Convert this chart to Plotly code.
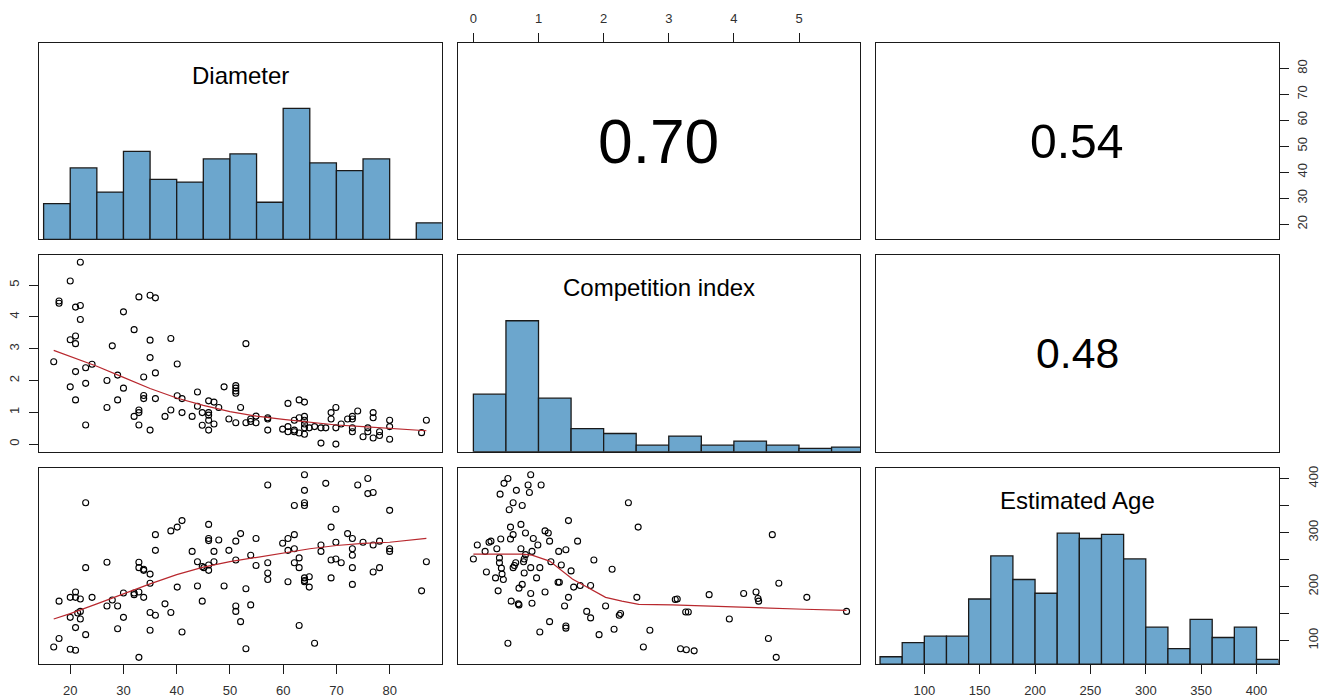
import plotly.graph_objects as go

# ---------------------------------------------------------------- data
variables = ["Diameter", "Competition index", "Estimated Age"]

# Diameter (x) vs competition index (y)
dia_ci_pairs = [
    (16.9, 2.59), (17.9, 4.50), (17.9, 4.43), (20.0, 5.13), (21.9, 5.72), (21.0, 4.31), (21.9, 4.36),
    (21.9, 3.92), (20.0, 3.28), (21.0, 3.40), (21.0, 3.16), (20.0, 1.80), (21.0, 2.28), (21.0, 1.39),
    (22.9, 2.40), (22.9, 1.91), (22.9, 0.60), (24.1, 2.51), (26.9, 2.00), (26.9, 1.15), (27.9, 3.09),
    (28.9, 2.17), (28.9, 1.39), (30.0, 4.16), (30.0, 1.76), (32.0, 3.60), (32.0, 0.87), (32.9, 4.63),
    (32.9, 1.07), (32.9, 0.99), (32.9, 0.60), (33.8, 2.11), (33.8, 1.53), (33.8, 1.43), (35.0, 4.68),
    (35.0, 3.27), (35.0, 2.72), (35.0, 0.44), (36.0, 4.60), (36.0, 2.24), (36.0, 1.43), (37.8, 0.87),
    (38.9, 3.32), (38.9, 1.07), (40.1, 2.52), (40.1, 1.52), (41.0, 1.43), (41.0, 0.99), (42.9, 0.87),
    (43.9, 1.64), (43.9, 1.19), (44.8, 0.99), (44.8, 0.59), (46.0, 1.36), (46.0, 0.99), (46.0, 0.91),
    (46.0, 0.75), (46.0, 0.44), (47.0, 1.32), (47.0, 0.63), (47.9, 1.15), (48.9, 1.80), (49.8, 0.79),
    (51.1, 1.84), (51.1, 1.76), (51.1, 1.67), (51.1, 1.60), (51.1, 0.67), (52.0, 1.15), (53.0, 3.16),
    (53.0, 0.67), (53.9, 0.71), (53.9, 0.79), (54.9, 0.88), (54.9, 0.67), (57.1, 0.83), (57.1, 0.79),
    (57.1, 0.44), (59.9, 0.47), (60.9, 1.28), (60.9, 0.55), (60.9, 0.39), (62.1, 0.75), (62.1, 0.44),
    (62.1, 0.39), (63.0, 1.39), (63.0, 0.83), (63.0, 0.35), (64.0, 1.32), (64.0, 0.87), (64.0, 0.75),
    (64.0, 0.63), (64.0, 0.51), (64.0, 0.31), (64.9, 0.51), (65.9, 0.55), (67.1, 0.03), (67.1, 0.51),
    (68.0, 0.51), (69.0, 0.99), (69.0, 0.79), (69.9, 1.15), (69.9, 0.51), (69.9, 0.00), (70.9, 0.63),
    (72.1, 0.79), (73.0, 0.87), (73.0, 0.79), (73.0, 0.51), (73.0, 0.39), (74.0, 1.04), (75.0, 0.23),
    (75.9, 0.51), (75.9, 0.39), (76.9, 0.99), (76.9, 0.83), (76.9, 0.19), (78.1, 0.39), (78.1, 0.27),
    (80.0, 0.75), (80.0, 0.55), (80.0, 0.15), (86.0, 0.36), (86.9, 0.75),
]

# Diameter (x) vs estimated age (y)
dia_age_pairs = [
    (16.9, 88), (17.9, 173), (17.9, 104), (20.0, 180), (20.0, 143), (20.0, 84), (21.0, 190), (21.0, 180),
    (21.0, 124), (21.0, 82), (21.9, 177), (21.9, 154), (21.9, 140), (21.4, 151), (22.9, 355), (22.9, 235),
    (22.9, 111), (24.1, 180), (26.9, 245), (26.9, 164), (27.9, 175), (28.9, 164), (28.9, 122), (30.0, 188),
    (30.0, 143), (32.0, 188), (32.0, 185), (32.9, 245), (32.9, 235), (32.9, 190), (32.9, 69), (33.8, 232),
    (33.8, 230), (33.8, 180), (35.0, 223), (35.0, 206), (35.0, 152), (35.0, 119), (36.0, 296), (36.0, 267),
    (36.0, 147), (37.8, 168), (38.9, 303), (38.9, 152), (40.1, 310), (40.1, 199), (41.0, 322), (41.0, 116),
    (42.9, 265), (43.9, 246), (43.9, 201), (44.8, 237), (45.1, 235), (44.8, 173), (46.0, 315), (46.0, 289),
    (46.0, 285), (46.0, 240), (46.0, 230), (47.0, 265), (47.0, 246), (47.9, 286), (48.9, 201), (49.8, 267),
    (51.1, 284), (51.1, 249), (51.1, 164), (51.1, 154), (52.0, 298), (52.0, 135), (53.0, 196), (53.0, 85),
    (53.9, 258), (53.9, 166), (54.9, 289), (54.9, 239), (57.1, 388), (57.1, 244), (57.1, 225), (57.1, 213),
    (59.9, 280), (60.9, 289), (60.9, 267), (60.9, 209), (62.1, 350), (62.1, 296), (62.1, 270), (62.1, 244),
    (63.0, 253), (63.0, 235), (63.0, 128), (64.0, 407), (64.0, 378), (64.0, 355), (64.0, 350), (64.0, 216),
    (64.0, 211), (64.0, 209), (64.9, 218), (64.9, 199), (65.9, 95), (67.1, 277), (67.1, 265), (68.0, 391),
    (69.0, 310), (69.0, 249), (69.0, 216), (69.9, 343), (69.9, 282), (69.9, 251), (70.9, 244), (72.1, 298),
    (73.0, 289), (73.0, 270), (73.0, 258), (73.0, 235), (73.0, 204), (74.0, 388), (75.0, 282), (75.9, 400),
    (75.9, 372), (76.9, 374), (76.9, 277), (76.9, 227), (78.1, 284), (78.1, 235), (80.0, 341), (80.0, 270),
    (80.0, 265), (86.0, 192), (86.9, 246),
]

# Competition index (x) vs estimated age (y)
ci_age_pairs = [
    (0.00, 251), (0.06, 277), (0.18, 265), (0.20, 227), (0.24, 282), (0.27, 284), (0.34, 216), (0.36, 270),
    (0.38, 192), (0.41, 371), (0.40, 253), (0.40, 244), (0.42, 288), (0.43, 234), (0.44, 223), (0.46, 213),
    (0.47, 391), (0.53, 400), (0.53, 95), (0.55, 342), (0.57, 310), (0.57, 288), (0.58, 173), (0.61, 355),
    (0.61, 296), (0.61, 235), (0.63, 239), (0.65, 244), (0.66, 378), (0.69, 168), (0.70, 166), (0.70, 197),
    (0.73, 315), (0.73, 270), (0.75, 350), (0.75, 204), (0.77, 246), (0.78, 251), (0.80, 259), (0.78, 225),
    (0.80, 299), (0.84, 388), (0.86, 374), (0.88, 407), (0.88, 235), (0.90, 265), (0.88, 187), (0.90, 169),
    (0.92, 289), (0.97, 216), (0.99, 277), (1.02, 235), (1.02, 116), (1.04, 388), (1.10, 303), (1.10, 190),
    (1.15, 299), (1.17, 284), (1.17, 135), (1.19, 246), (1.30, 208), (1.32, 208), (1.31, 265), (1.35, 240),
    (1.40, 164), (1.42, 268), (1.42, 127), (1.42, 123), (1.46, 322), (1.46, 180), (1.50, 229), (1.54, 199),
    (1.60, 284), (1.64, 202), (1.74, 154), (1.80, 202), (1.80, 142), (1.85, 249), (1.93, 111), (2.03, 164),
    (2.13, 232), (2.16, 121), (2.24, 147), (2.26, 150), (2.38, 355), (2.51, 180), (2.53, 310), (2.61, 88),
    (2.71, 119), (3.10, 176), (3.13, 177), (3.18, 85), (3.27, 83), (3.26, 153), (3.30, 153), (3.39, 81),
    (3.62, 185), (3.93, 140), (4.15, 187), (4.34, 190), (4.37, 178), (4.38, 173), (4.53, 104), (4.59, 296),
    (4.65, 69), (4.69, 206), (5.12, 180), (5.73, 154),
]

# lowess smooth curves
smooth_dia_ci_x = [16.9, 20, 25, 30, 35, 40, 45, 50, 55, 60, 65, 70, 75, 80, 86.9]
smooth_dia_ci_y = [2.95, 2.75, 2.45, 2.10, 1.75, 1.45, 1.22, 1.02, 0.88, 0.78, 0.70, 0.60, 0.55, 0.50, 0.42]
smooth_dia_age_x = [16.9, 20, 25, 30, 35, 40, 45, 50, 55, 60, 65, 70, 75, 80, 86.9]
smooth_dia_age_y = [140, 150, 168, 187, 205, 222, 236, 246, 254, 262, 270, 276, 280, 282, 289]
smooth_ci_age_x = [0.0, 0.5, 0.75, 0.9, 1.17, 1.52, 1.78, 2.03, 2.28, 2.54, 3.05, 3.55, 4.06, 4.57, 5.08, 5.73]
smooth_ci_age_y = [260, 260, 260, 258, 247, 214, 196, 180, 173, 167, 166, 164, 162, 159, 158, 156]

# histograms: first break, bin width, bar height relative to the tallest bin
dia_hist_start, dia_hist_width = 15, 5
dia_hist_rel = [0.273, 0.545, 0.361, 0.672, 0.457, 0.437, 0.614, 0.652, 0.283, 1.0, 0.583, 0.525, 0.614, 0.0, 0.126]
ci_hist_start, ci_hist_width = 0, 0.5
ci_hist_rel = [0.439, 1.0, 0.409, 0.177, 0.139, 0.05, 0.119, 0.05, 0.081, 0.05, 0.025, 0.035]
age_hist_start, age_hist_width = 60, 20
age_hist_rel = [0.056, 0.164, 0.213, 0.213, 0.497, 0.826, 0.646, 0.541, 1.0, 0.959, 0.99, 0.803,
                0.282, 0.118, 0.341, 0.203, 0.282, 0.036]

# absolute correlations shown in the upper panels: (row, col, r)
correlations = [(1, 2, 0.70), (1, 3, 0.54), (2, 3, 0.48)]

# tick positions
dia_ticks = [20, 30, 40, 50, 60, 70, 80]
ci_ticks = [0, 1, 2, 3, 4, 5]
age_ticks = [100, 150, 200, 250, 300, 350, 400]
age_side_labels = [100, 200, 300, 400]

# ---------------------------------------------------------------- styling
FONT = "Liberation Sans, Arial, sans-serif"
W, H = 1321, 698
PANEL_W, PANEL_H = 404, 197
COL_X0 = [39.5, 459.5, 879.5]
ROW_Y0 = [41, 254, 467]
HIST_FILL = "#6CA6CD"
EDGE = "#1a1a1a"
SMOOTH = "#b8282e"
TICK_FONT = dict(family=FONT, size=13, color="#303030")

ranges = {
    "Diameter": [14.2, 89.8],
    "Competition index": [-0.24, 5.94],
    "Estimated Age": [56.5, 420.0],
}
HIST_RANGE = [0, 1.5]


def pid(r, c):
    return (r - 1) * 3 + c


def axname(kind, k):
    return kind if k == 1 else f"{kind}{k}"


fig = go.Figure()
layout = dict(
    width=W, height=H, margin=dict(l=0, r=0, t=0, b=0),
    paper_bgcolor="white", plot_bgcolor="white", showlegend=False,
    font=dict(family=FONT, color="black"),
    annotations=[],
)

for r in range(1, 4):
    for c in range(1, 4):
        k = pid(r, c)
        x0 = COL_X0[c - 1]
        y0 = ROW_Y0[r - 1]
        base = dict(showgrid=False, zeroline=False, showline=True, mirror=True,
                    linecolor=EDGE, linewidth=1, ticks="", showticklabels=False,
                    fixedrange=True)
        xa = dict(base, domain=[x0 / W, (x0 + PANEL_W) / W], anchor=axname("y", k),
                  range=ranges[variables[c - 1]])
        ya = dict(base, domain=[1 - (y0 + PANEL_H) / H, 1 - y0 / H], anchor=axname("x", k),
                  range=HIST_RANGE if r == c else ranges[variables[r - 1]])
        layout[axname("xaxis", k)] = xa
        layout[axname("yaxis", k)] = ya
        # empty trace so every panel is laid out
        fig.add_trace(go.Scatter(x=[], y=[], xaxis=axname("x", k), yaxis=axname("y", k),
                                 hoverinfo="skip"))

tick_common = dict(ticks="outside", ticklen=9, tickwidth=1, tickcolor=EDGE,
                   showticklabels=True, tickfont=TICK_FONT)

# bottom axis, column 1
layout["xaxis7"].update(tick_common, side="bottom", tickvals=dia_ticks, ticklabelstandoff=5)
# top axis, column 2
layout["xaxis2"].update(tick_common, side="top", tickvals=ci_ticks, ticklabelstandoff=5)
# bottom axis, column 3
layout["xaxis9"].update(tick_common, side="bottom", tickvals=age_ticks, ticklabelstandoff=5)
# right axis, row 1
layout["yaxis3"].update(tick_common, side="right", tickvals=dia_ticks, tickangle=-90,
                        ticklabelstandoff=3)
# left axis, row 2
layout["yaxis4"].update(tick_common, side="left", tickvals=ci_ticks, tickangle=-90,
                        ticklabelstandoff=5)
# right axis, row 3 (age scale laid over the age histogram)
layout["yaxis10"] = dict(
    tick_common, overlaying="y9", anchor="x9", side="right",
    range=ranges["Estimated Age"], showgrid=False, zeroline=False, showline=False,
    tickvals=age_ticks,
    ticktext=[str(v) if v in age_side_labels else "" for v in age_ticks],
    tickangle=-90, ticklabelstandoff=14, fixedrange=True,
)
fig.add_trace(go.Scatter(x=[], y=[], xaxis="x9", yaxis="y10", hoverinfo="skip"))


# diagonal histograms with the variable name
def add_hist(k, start, width, rel):
    centers = [start + width * (i + 0.5) for i in range(len(rel))]
    fig.add_trace(go.Bar(
        x=centers, y=rel, width=[width] * len(rel),
        marker=dict(color=HIST_FILL, line=dict(color=EDGE, width=1.3)),
        xaxis=axname("x", k), yaxis=axname("y", k), hoverinfo="skip",
    ))


add_hist(pid(1, 1), dia_hist_start, dia_hist_width, dia_hist_rel)
add_hist(pid(2, 2), ci_hist_start, ci_hist_width, ci_hist_rel)
add_hist(pid(3, 3), age_hist_start, age_hist_width, age_hist_rel)

for i, name in enumerate(variables):
    k = pid(i + 1, i + 1)
    layout["annotations"].append(dict(
        text=name, showarrow=False,
        xref=f"{axname('x', k)} domain", yref=f"{axname('y', k)} domain",
        x=0.5, y=0.835, xanchor="center", yanchor="middle",
        font=dict(family=FONT, size=24, color="black"),
    ))


# lower panels: scatter with smooth curve
def add_scatter(k, pairs, sx, sy):
    xs = [p[0] for p in pairs]
    ys = [p[1] for p in pairs]
    fig.add_trace(go.Scatter(
        x=xs, y=ys, mode="markers",
        marker=dict(symbol="circle-open", size=6, color="black", line=dict(width=1.1)),
        xaxis=axname("x", k), yaxis=axname("y", k), hoverinfo="skip",
    ))
    fig.add_trace(go.Scatter(
        x=sx, y=sy, mode="lines", line=dict(color=SMOOTH, width=1.2),
        xaxis=axname("x", k), yaxis=axname("y", k), hoverinfo="skip",
    ))


add_scatter(pid(2, 1), dia_ci_pairs, smooth_dia_ci_x, smooth_dia_ci_y)
add_scatter(pid(3, 1), dia_age_pairs, smooth_dia_age_x, smooth_dia_age_y)
add_scatter(pid(3, 2), ci_age_pairs, smooth_ci_age_x, smooth_ci_age_y)

# upper panels: correlation text sized by its value
for r, c, val in correlations:
    k = pid(r, c)
    layout["annotations"].append(dict(
        text=f"{val:.2f}", showarrow=False,
        xref=f"{axname('x', k)} domain", yref=f"{axname('y', k)} domain",
        x=0.5, y=0.5, xanchor="center", yanchor="middle",
        font=dict(family=FONT, size=89 * val, color="black"),
    ))

fig.update_layout(layout)
fig.write_html("out.html")
